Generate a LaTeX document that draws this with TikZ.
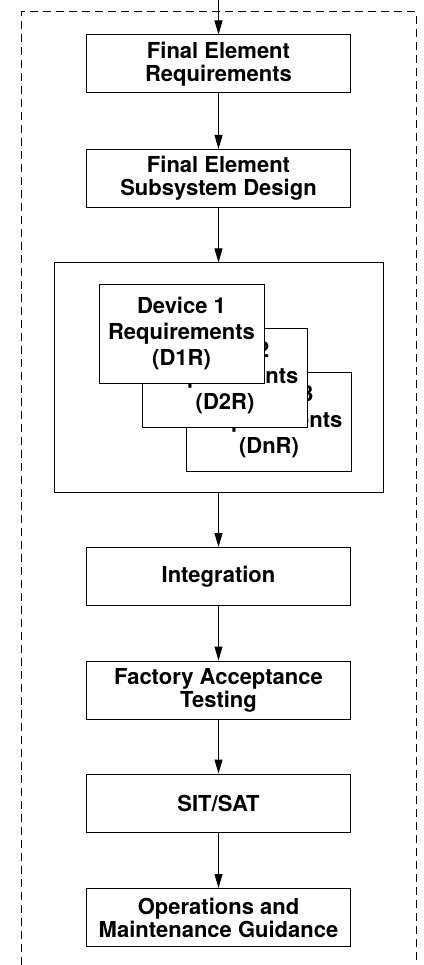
\documentclass[tikz,border=0pt]{standalone}
\usepackage{fontspec}
\setmainfont{TeX Gyre Heros}
\usepackage{tikz}
\usetikzlibrary{arrows.meta}

\begin{document}
\begin{tikzpicture}[x=1pt,y=-1pt,
    stagebox/.style={rectangle, draw=black, line width=1pt, text centered, minimum width=264pt, minimum height=58pt, align=center, font=\fontsize{22}{23}\selectfont\bfseries},
    devbox/.style={rectangle, draw=black, fill=white, line width=1pt, text centered, minimum width=165pt, minimum height=99pt, align=center, font=\fontsize{22}{26}\selectfont\bfseries},
    flow/.style={line width=1pt, -{Triangle[length=14pt,width=8pt]}}]
            \useasboundingbox (0,0) rectangle (423,965);
            % dashed frame, open at the bottom
            \draw[line width=1pt, dash pattern=on 8pt off 5pt] (21,965) -- (21,12) -- (416,12) -- (416,965);
            \coordinate (entry) at (218.5,0);
            \node [stagebox] (fer) at (218.5,64) {Final Element\\Requirements};
            \node [stagebox] (fesd) at (218.5,178.5) {Final Element\\Subsystem Design};
            \node [rectangle, draw=black, line width=1pt, minimum width=329pt, minimum height=229pt] (devices) at (218.5,377.5) {};
            \node [devbox] (dnr) at (269,421.5) {Device 3\\Requirements\\(DnR)};
            \node [devbox] (d2r) at (225,377.5) {Device 2\\Requirements\\(D2R)};
            \node [devbox] (d1r) at (181.5,333.5) {Device 1\\Requirements\\(D1R)};
            \node [stagebox] (integ) at (218.5,576.5) {Integration};
            \node [stagebox] (fat) at (218.5,690) {Factory Acceptance\\Testing};
            \node [stagebox] (sitsat) at (218.5,803) {SIT/SAT};
            \node [stagebox] (omg) at (218.5,917.5) {Operations and\\Maintenance Guidance};
            \draw[flow] (entry) -- (fer);
            \draw[flow] (fer) -- (fesd);
            \draw[flow] (fesd) -- (devices);
            \draw[flow] (devices) -- (integ);
            \draw[flow] (integ) -- (fat);
            \draw[flow] (fat) -- (sitsat);
            \draw[flow] (sitsat) -- (omg);
        \end{tikzpicture}
\end{document}
